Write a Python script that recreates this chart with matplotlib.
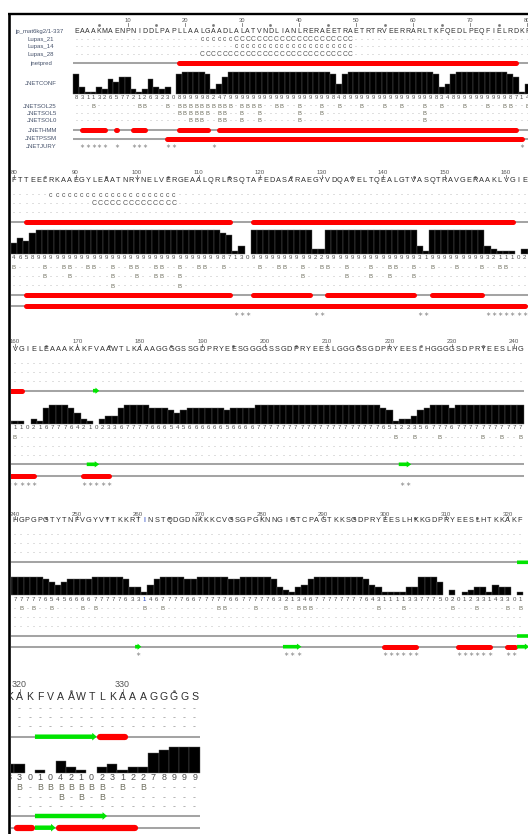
import matplotlib
matplotlib.use("Agg")
import matplotlib.pyplot as plt
from matplotlib.patches import Polygon

plt.rcParams['font.family'] = ['Liberation Sans', 'DejaVu Sans']

W, H = 528, 834

# ---- data ----
SEQ_ID = "jp_mat6kg2/1-337"
SEQUENCE = ("EAAAKMAENPNIDDLPAPLLAALGAADLALATVNDLIANLRERAEETRAETRTRVEERRARLTKFQEDLPEQFIELRDKF"
            "TTEELRKAAEGYLEAATNRYNELVERGEAALQRLRSQTAFEDASARAEGYVDQAVELTQEALGTVASQTRAVGERAAKLV"
            "GIELEAAAKAKFVAAWTLKAAAGGGGSSGDPRYEESGGGGSSGDPRYEESLGGGGSGDPRYEESLHGGGGSDPRYEESLH"
            "GPGPGTYTNFVGYVTTKKRTINSTQDGDNKKKCVGSGPGKNNGIGTCPAGTKKSGDPRYEESLHKKGDPRYEESLHTKKA"
            "KFVAAWTLKAAAGGGGS")

# JNETCONF, one digit per residue
JNETCONF = ("831132657721263230899998247" "99999999999999999" "9848" "999999999999999"
            "8348" "999999999" "8714"
            "658" "999999999999999999999999999999" "87130" "9999999999" "22"
            "999999999999999" "31" "999999999" "3211102"
            "16777642102336" "777766654566666656666" "77777777777777777777"
            "651223567776777777777"
            "777776545666677777633146777766777776677777"
            "632134677777777643111133777" "50201233143301" "042102312278999")

# Lupas coiled-coil rows: (first, last, symbol), '-' elsewhere
LUPAS_21 = [(23, 28, 'c'), (29, 49, 'C'), (86, 106, 'c')]
LUPAS_14 = [(29, 49, 'c'), (93, 106, 'C')]
LUPAS_28 = [(23, 49, 'C')]

# secondary structure segments (first, last)
JNETPRED_H = [(19, 78), (82, 115), (119, 161), (328, 330)]
JNETPRED_E = [(173, 173), (322, 327)]
JNETHMM_H = [(2, 6), (8, 8), (11, 13), (19, 24), (26, 78), (82, 115), (119, 128),
             (131, 145), (148, 156)]
JNETHMM_E = [(172, 173), (222, 223), (322, 328)]
JNETPSSM_H = [(17, 79), (82, 163), (171, 175), (300, 305), (312, 317), (320, 321),
              (324, 331)]
JNETPSSM_E = [(260, 260), (284, 286), (322, 323)]

# buried residues ('B')
JNETSOL25 = [4, 12, 13, 17, 19, 20, 21, 22, 23, 24, 25, 26, 27, 28, 30, 31, 32, 33, 36, 37,
             40, 44, 47, 51, 55, 58, 62, 65, 69, 73, 76, 77,
             80, 85, 88, 89, 92, 93, 96, 99, 100, 103, 104, 107, 110, 111, 114, 120, 123,
             124, 127, 130, 131, 134, 138, 141, 142, 145, 148, 152, 156, 159, 160,
             221, 224, 228, 235, 238, 241, 243, 246, 251, 253, 261, 264, 273, 274, 279,
             284, 286, 287, 288, 299, 303, 311, 315, 320, 322, 323, 324, 325, 326, 327,
             328, 330, 332]
JNETSOL5 = [19, 20, 21, 22, 23, 24, 26, 27, 30, 33, 40, 44, 62,
            85, 89, 96, 100, 103, 104, 107, 127, 134, 138, 141, 145, 324, 326, 328]
JNETSOL0 = [21, 22, 23, 26, 27, 30, 33, 40, 62, 96, 107]

JNETJURY = [2, 3, 4, 5, 6, 8, 11, 12, 13, 17, 18, 25, 79, 116, 117, 118, 129, 130, 146,
            147, 157, 158, 159, 160, 161, 162, 163, 171, 172, 173, 174, 175, 222, 223,
            260, 284, 285, 286, 300, 301, 302, 303, 304, 305, 312, 313, 314, 315, 316,
            317, 320, 321, 324, 325, 326, 327, 328, 329, 330, 331]

ROW_LABELS = ["Lupas_21", "Lupas_14", "Lupas_28", "jnetpred", "JNETCONF",
              "JNETSOL25", "JNETSOL5", "JNETSOL0", "JNETHMM", "JNETPSSM", "JNETJURY"]

# ---- layout of the five wrapped blocks (pixels) ----
BLOCKS = [
    dict(first=1, last=80, r0=1, x0=76.3, pitch=5.71, left=70, ruler=20.3, tick=25.0,
         seq=31.0, lup=(39.3, 46.9, 54.9), pred=63.3, top=71.7, bot=94.0, digits=97.6,
         sol=(106.0, 113.3, 120.6), hmm=130.0, pssm=138.5, jury=146.8,
         fs=5.0, sfs=4.2, thick=5.0),
    dict(first=79, last=163, r0=80, x0=14.0, pitch=6.15, left=10.5, ruler=172.8, tick=176.8,
         seq=180.8, lup=(195.0, 203.5, 212.3), pred=221.7, top=230.0, bot=254.0, digits=257.8,
         sol=(267.3, 276.7, 286.0), hmm=295.0, pssm=305.7, jury=314.2,
         fs=5.3, sfs=4.4, thick=5.0),
    dict(first=159, last=241, r0=160, x0=15.0, pitch=6.24, left=10.5, ruler=341.7, tick=345.5,
         seq=349.5, lup=(364.0, 372.7, 381.7), pred=390.7, top=399.6, bot=424.0, digits=427.2,
         sol=(437.3, 446.7, 456.0), hmm=464.3, pssm=475.7, jury=484.0,
         fs=5.3, sfs=4.4, thick=5.0),
    dict(first=239, last=322, r0=240, x0=15.0, pitch=6.16, left=10.5, ruler=514.0, tick=517.6,
         seq=520.9, lup=(535.0, 543.3, 552.7), pred=562.3, top=571.4, bot=595.0, digits=599.3,
         sol=(608.3, 617.3, 626.7), hmm=636.0, pssm=646.7, jury=655.0,
         fs=5.3, sfs=4.4, thick=5.0),
    dict(first=319, last=337, r0=320, x0=19.5, pitch=10.3, left=10.5, ruler=684.5, tick=690.5,
         seq=696.9, lup=(709.0, 717.7, 726.7), pred=736.7, top=746.7, bot=773.3, digits=777.7,
         sol=(787.7, 797.3, 806.7), hmm=816.0, pssm=827.7, jury=838.0,
         fs=7.6, sfs=6.4, thick=6.2),
]

SEQ_COL = '#2e2e2e'
DIG_COL = '#4f4f4f'
B_COL = '#6e6e5e'
DASH_COL = '#9c9c9c'
LINE_COL = '#a4a4a4'
RED = '#ff0000'
GREEN = '#00e400'
LABEL_COL = '#46526b'
HILITE = {261: '#1a3cc0'}

fig = plt.figure(figsize=(W / 100, H / 100), dpi=100)
fig.patch.set_facecolor('white')


def seg_char(segs, r):
    for s, e, ch in segs:
        if s <= r <= e:
            return ch
    return '-'


def draw_track(ax, b, y, helices, strands):
    p, t = b['pitch'], b['thick']
    ax.plot([b['first'] - 0.5, b['last'] + 0.5], [y, y], color=LINE_COL, lw=1.45,
            solid_capstyle='butt', zorder=1)
    cap = (t / 2) / p
    for s, e in helices:
        if e < b['first'] - 1 or s > b['last'] + 1:
            continue
        x1, x2 = s - 0.5 + cap, e + 0.5 - cap
        if x1 > x2:
            x1 = x2 = (s + e) / 2
        ax.plot([x1, x2], [y, y], color=RED, lw=t * 0.72, solid_capstyle='round', zorder=2)
    for s, e in strands:
        if e < b['first'] - 1 or s > b['last'] + 1:
            continue
        hl = min(4.5 / p, (e - s + 1) * 0.6)
        hs, hh = t * 0.36, t * 0.62
        x1, x2 = s - 0.5, e + 0.5
        xm = x2 - hl
        pts = [(x1, y - hs), (xm, y - hs), (xm, y - hh), (x2, y), (xm, y + hh),
               (xm, y + hs), (x1, y + hs)]
        ax.add_patch(Polygon(pts, closed=True, facecolor=GREEN, edgecolor='none', zorder=2))


for b in BLOCKS:
    L = b['left']
    ax = fig.add_axes([L / W, 0, (W - L) / W, 1])
    ax.set_xlim(b['r0'] + (L - b['x0']) / b['pitch'], b['r0'] + (W - b['x0']) / b['pitch'])
    ax.set_ylim(H, 0)
    ax.axis('off')
    ax.patch.set_visible(False)
    res = list(range(b['first'], b['last'] + 1))
    fs, sfs = b['fs'], b['sfs']
    tk = dict(ha='center', va='center', clip_on=True)

    # ruler
    for r in res:
        if r % 10 == 0:
            ax.text(r, b['ruler'], str(r), fontsize=sfs, color='#555555', **tk)
            ax.plot([r, r], [b['tick'] - 1.6, b['tick'] + 1.4], color='#777777', lw=0.6)
        elif r % 5 == 0:
            ax.plot([r], [b['tick']], marker='s', ms=0.9, color='#777777', ls='none')

    # sequence
    for r in res:
        ax.text(r, b['seq'], SEQUENCE[r - 1], fontsize=fs, color=HILITE.get(r, SEQ_COL), **tk)

    # Lupas rows
    for y, segs in zip(b['lup'], (LUPAS_21, LUPAS_14, LUPAS_28)):
        for r in res:
            ch = seg_char(segs, r)
            ax.text(r, y, ch, fontsize=sfs if ch == '-' else fs * 0.95,
                    color=DASH_COL if ch == '-' else '#555555', **tk)

    # jnetpred
    draw_track(ax, b, b['pred'], JNETPRED_H, JNETPRED_E)

    # JNETCONF histogram
    k = (b['bot'] - b['top']) / 9
    xs = [r for r in res if int(JNETCONF[r - 1]) > 0]
    hs = [-int(JNETCONF[r - 1]) * k for r in xs]
    ax.bar(xs, hs, bottom=b['bot'], width=1.0, color='black', edgecolor='#5c5c5c',
           linewidth=0.3, zorder=2)
    for r in res:
        ax.text(r, b['digits'], JNETCONF[r - 1], fontsize=sfs,
                color=HILITE.get(r, DIG_COL), **tk)

    # solvent accessibility rows
    for y, buried in zip(b['sol'], (JNETSOL25, JNETSOL5, JNETSOL0)):
        bs = set(buried)
        for r in res:
            if r in bs:
                ax.text(r, y, 'B', fontsize=sfs, color=B_COL, **tk)
            else:
                ax.text(r, y, '-', fontsize=sfs, color=DASH_COL, **tk)

    # HMM / PSSM tracks
    draw_track(ax, b, b['hmm'], JNETHMM_H, JNETHMM_E)
    draw_track(ax, b, b['pssm'], JNETPSSM_H, JNETPSSM_E)

    # jury marks
    for r in JNETJURY:
        if b['first'] <= r <= b['last']:
            ax.text(r, b['jury'], '\u2217', fontsize=sfs, color='#8a8a8a',
                    family=['DejaVu Sans'], **tk)

# ---- labels and frame (pixel overlay) ----
base = fig.add_axes([0, 0, 1, 1])
base.set_xlim(0, W)
base.set_ylim(H, 0)
base.axis('off')
base.patch.set_visible(False)

b1 = BLOCKS[0]
lab_y = list(b1['lup']) + [b1['pred'], (b1['top'] + b1['bot']) / 2 + 1] + list(b1['sol']) + \
    [b1['hmm'], b1['pssm'], b1['jury']]
lab_x = [53.5, 53.5, 53.5, 52.0, 57.0, 57.0, 57.0, 57.0, 57.0, 57.0, 57.0]
base.text(63.5, b1['seq'], SEQ_ID, fontsize=4.3, color=LABEL_COL, ha='right', va='center')
for name, x, y in zip(ROW_LABELS, lab_x, lab_y):
    base.text(x, y, name, fontsize=4.3, color=LABEL_COL, ha='right', va='center')

base.plot([8, W], [13.6, 13.6], color='black', lw=1.7, solid_capstyle='butt')
base.plot([9.4, 9.4], [12.8, H], color='black', lw=1.9, solid_capstyle='butt')

fig.savefig('out.png', dpi=100, facecolor='white')
